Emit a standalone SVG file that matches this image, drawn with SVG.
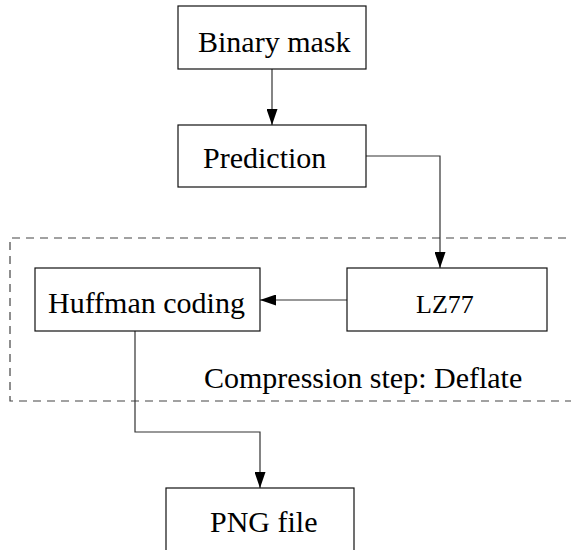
<svg xmlns="http://www.w3.org/2000/svg" width="571" height="550" viewBox="0 0 571 550">
<style>
.box{fill:#fff;stroke:#111;stroke-width:1.2}
.lbl{font-family:"Liberation Serif","Times New Roman",serif;font-size:30px;fill:#000}
.conn{fill:none;stroke:#333;stroke-width:1.2}
.dash{fill:none;stroke:#444;stroke-width:1.2;stroke-dasharray:8 6}
</style>
<defs>
<marker id="arr" markerWidth="16" markerHeight="11" refX="16" refY="5.5" orient="auto" markerUnits="userSpaceOnUse">
<path d="M0,0 L16,5.5 L0,11 Z" fill="#000"/>
</marker>
</defs>
<rect width="571" height="550" fill="#fff"/>
<g id="deflate-region">
<path class="dash" d="M580,238 H10 V401 H580"/>
<text class="lbl" x="204" y="388">Compression step: Deflate</text>
</g>
<g id="connectors">
<path class="conn" d="M272,69 V125" marker-end="url(#arr)"/>
<path class="conn" d="M366,156 H440 V268" marker-end="url(#arr)"/>
<path class="conn" d="M347,300 H260" marker-end="url(#arr)"/>
<path class="conn" d="M135,331 V432 H260 V488" marker-end="url(#arr)"/>
</g>
<g id="binary-mask">
<rect class="box" x="178" y="6" width="188" height="63"/>
<text class="lbl" x="198" y="52">Binary mask</text>
</g>
<g id="prediction">
<rect class="box" x="178" y="125" width="188" height="62"/>
<text class="lbl" x="203" y="168">Prediction</text>
</g>
<g id="lz77">
<rect class="box" x="347" y="268" width="200" height="63"/>
<text class="lbl" x="416" y="313" style="font-size:26px">LZ77</text>
</g>
<g id="huffman">
<rect class="box" x="35" y="268" width="225" height="63"/>
<text class="lbl" x="48" y="313">Huffman coding</text>
</g>
<g id="png-file">
<rect class="box" x="166" y="488" width="188" height="80"/>
<text class="lbl" x="210" y="532">PNG file</text>
</g>
</svg>
